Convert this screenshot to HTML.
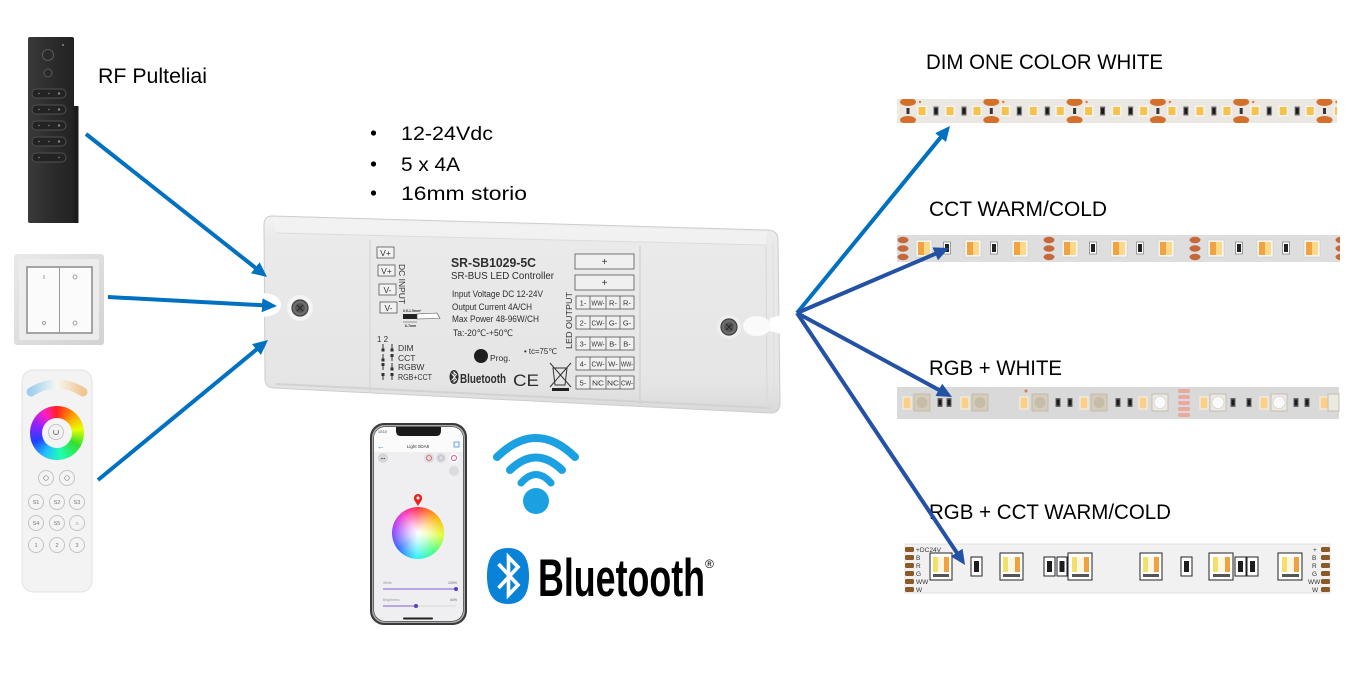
<!DOCTYPE html>
<html><head><meta charset="utf-8">
<style>
html,body{margin:0;padding:0;background:#fff;}
body{width:1353px;height:676px;position:relative;overflow:hidden;font-family:"Liberation Sans","DejaVu Sans",sans-serif;}
svg{position:absolute;left:0;top:0;}
.wheel{position:absolute;border-radius:50%;}
</style></head><body>
<svg width="1353" height="676" viewBox="0 0 1353 676" xmlns="http://www.w3.org/2000/svg" style="font-family:'Liberation Sans','DejaVu Sans',sans-serif">
<defs>
  <linearGradient id="cbody" x1="0" y1="0" x2="0" y2="1">
    <stop offset="0" stop-color="#f2f2f2"/>
    <stop offset="0.12" stop-color="#eaeaea"/>
    <stop offset="0.85" stop-color="#e5e5e5"/>
    <stop offset="1" stop-color="#d9d9d9"/>
  </linearGradient>
  <linearGradient id="band" x1="0" y1="0" x2="1" y2="0">
    <stop offset="0" stop-color="#9fd0ee"/>
    <stop offset="0.5" stop-color="#f7f7f2"/>
    <stop offset="1" stop-color="#efc690"/>
  </linearGradient>
  <linearGradient id="blk" x1="0" y1="0" x2="1" y2="0">
    <stop offset="0" stop-color="#3a3a3a"/>
    <stop offset="0.5" stop-color="#2c2c2c"/>
    <stop offset="1" stop-color="#222"/>
  </linearGradient>
  <linearGradient id="sw" x1="0" y1="0" x2="1" y2="1">
    <stop offset="0" stop-color="#e9e9e9"/>
    <stop offset="1" stop-color="#d2d2d2"/>
  </linearGradient>
  <marker id="mL" markerUnits="userSpaceOnUse" markerWidth="16" markerHeight="14" refX="5" refY="7" orient="auto">
    <path d="M0,0 L15,7 L0,14 Z" fill="#0070c0"/>
  </marker>
  <marker id="mD" markerUnits="userSpaceOnUse" markerWidth="16" markerHeight="14" refX="5" refY="7" orient="auto">
    <path d="M0,0 L15,7 L0,14 Z" fill="#2351a3"/>
  </marker>
  <pattern id="p1" x="900" y="99" width="83.3" height="24" patternUnits="userSpaceOnUse">
    <ellipse cx="8" cy="3" rx="8" ry="4" fill="#d4702a"/>
    <ellipse cx="8" cy="21" rx="8" ry="4" fill="#d4702a"/>
    <rect x="6.5" y="9" width="3" height="6" fill="#333"/>
    <rect x="17" y="6.5" width="10" height="11" fill="#f6f3ec"/><rect x="18.5" y="8" width="7" height="8" fill="#f5c24e"/>
    <rect x="45" y="6.5" width="10" height="11" fill="#f6f3ec"/><rect x="46.5" y="8" width="7" height="8" fill="#f5c24e"/>
    <rect x="72" y="6.5" width="10" height="11" fill="#f6f3ec"/><rect x="73.5" y="8" width="7" height="8" fill="#f5c24e"/>
    <rect x="33.5" y="7.5" width="5" height="9" fill="#666"/><rect x="34.5" y="9" width="3" height="6" fill="#1a1a1a"/>
    <rect x="61.5" y="7.5" width="5" height="9" fill="#666"/><rect x="62.5" y="9" width="3" height="6" fill="#1a1a1a"/>
    <circle cx="20" cy="3" r="1.2" fill="#e07a30"/>
  </pattern>
  <pattern id="p2" x="896" y="235" width="146" height="27" patternUnits="userSpaceOnUse">
    <ellipse cx="7" cy="5" rx="5.5" ry="3.2" fill="#c5683a"/>
    <ellipse cx="7" cy="13.5" rx="5.5" ry="3.2" fill="#c5683a"/>
    <ellipse cx="7" cy="22" rx="5.5" ry="3.2" fill="#c5683a"/>
    <g>
      <rect x="20" y="5" width="16" height="17" fill="#f7f5f0" stroke="#c8c8c8" stroke-width="0.5"/>
      <rect x="22" y="7" width="6" height="13" fill="#f2a23e"/><rect x="28" y="7" width="6" height="13" fill="#fbd88a"/>
      <rect x="69" y="5" width="16" height="17" fill="#f7f5f0" stroke="#c8c8c8" stroke-width="0.5"/>
      <rect x="71" y="7" width="6" height="13" fill="#f2a23e"/><rect x="77" y="7" width="6" height="13" fill="#fbd88a"/>
      <rect x="116" y="5" width="16" height="17" fill="#f7f5f0" stroke="#c8c8c8" stroke-width="0.5"/>
      <rect x="118" y="7" width="6" height="13" fill="#f2a23e"/><rect x="124" y="7" width="6" height="13" fill="#fbd88a"/>
      <rect x="47.5" y="7" width="7" height="12" fill="#fff" stroke="#666" stroke-width="0.6"/><rect x="49" y="9" width="4" height="8" fill="#222"/>
      <rect x="94.5" y="7" width="7" height="12" fill="#fff" stroke="#666" stroke-width="0.6"/><rect x="96" y="9" width="4" height="8" fill="#222"/>
    </g>
  </pattern>
  <clipPath id="scr"><rect x="374" y="427" width="89" height="194" rx="11"/></clipPath>
</defs>

<rect width="1353" height="676" fill="#fff"/>

<!-- Black RF remote -->
<rect x="73" y="106" width="5.5" height="117" fill="#1c1c1c"/>
<rect x="28" y="37" width="46" height="186" rx="2" fill="url(#blk)"/>
<circle cx="48" cy="55" r="5.5" fill="#2a2a2a" stroke="#5a5a5a" stroke-width="1"/>
<circle cx="48" cy="73" r="4" fill="#2a2a2a" stroke="#5a5a5a" stroke-width="1"/>
<circle cx="63" cy="45" r="1" fill="#888"/>
<g fill="#232323" stroke="#505050" stroke-width="1">
  <rect x="32" y="89" width="34" height="9" rx="4.5"/>
  <rect x="32" y="105" width="34" height="9" rx="4.5"/>
  <rect x="32" y="121" width="34" height="9" rx="4.5"/>
  <rect x="32" y="137" width="34" height="9" rx="4.5"/>
  <rect x="32" y="153" width="34" height="9" rx="4.5"/>
</g>
<g fill="#8a8a8a">
  <circle cx="39" cy="93.5" r="0.7"/><circle cx="49" cy="93.5" r="0.7"/><circle cx="59" cy="93.5" r="1.2"/>
  <circle cx="39" cy="109.5" r="0.7"/><circle cx="49" cy="109.5" r="0.7"/><circle cx="59" cy="109.5" r="1.2"/>
  <circle cx="39" cy="125.5" r="0.7"/><circle cx="49" cy="125.5" r="0.7"/><circle cx="59" cy="125.5" r="1.2"/>
  <circle cx="39" cy="141.5" r="0.7"/><circle cx="49" cy="141.5" r="0.7"/><circle cx="59" cy="141.5" r="1.2"/>
  <circle cx="39" cy="157.5" r="0.7"/><circle cx="59" cy="157.5" r="0.7"/>
</g>
<text x="98" y="83" font-size="21" fill="#000" textLength="109" lengthAdjust="spacingAndGlyphs">RF Pulteliai</text>

<!-- Wall switch -->
<rect x="14" y="254" width="90" height="91" rx="3" fill="url(#sw)"/>
<rect x="19" y="259" width="80" height="81" rx="2" fill="#ececec"/>
<rect x="27" y="267" width="65" height="66" fill="#fbfbfb" stroke="#8a8a8a" stroke-width="1.5"/>
<line x1="59.5" y1="268" x2="59.5" y2="332" stroke="#9a9a9a" stroke-width="1"/>
<line x1="44" y1="275" x2="44" y2="279" stroke="#888" stroke-width="0.8"/>
<circle cx="75" cy="277" r="2" fill="none" stroke="#888" stroke-width="0.8"/>
<circle cx="44" cy="323" r="1.5" fill="none" stroke="#888" stroke-width="0.8"/>
<circle cx="75" cy="323" r="2" fill="none" stroke="#888" stroke-width="0.8"/>

<!-- White remote -->
<rect x="22" y="370" width="70" height="222" rx="11" fill="#f3f3f3" stroke="#e3e3e3" stroke-width="1"/>
<path d="M31 392 Q57 376 83 392" stroke="url(#band)" stroke-width="9" stroke-linecap="round" fill="none"/>
<g fill="#f4f4f4" stroke="#c4c4c4" stroke-width="1">
  <circle cx="46" cy="478" r="7.5"/><circle cx="67" cy="478" r="7.5"/>
  <circle cx="36" cy="502" r="7.5"/><circle cx="57" cy="502" r="7.5"/><circle cx="77" cy="502" r="7.5"/>
  <circle cx="36" cy="523" r="7.5"/><circle cx="57" cy="523" r="7.5"/><circle cx="77" cy="523" r="7.5"/>
  <circle cx="36" cy="545" r="7.5"/><circle cx="57" cy="545" r="7.5"/><circle cx="77" cy="545" r="7.5"/>
</g>
<g fill="#777" font-size="5.5" text-anchor="middle">
  <text x="36" y="504">S1</text><text x="57" y="504">S2</text><text x="77" y="504">S3</text>
  <text x="36" y="525">S4</text><text x="57" y="525">S5</text><text x="77" y="525">⌂</text>
  <text x="36" y="547">1</text><text x="57" y="547">2</text><text x="77" y="547">3</text>
</g>
<circle cx="46" cy="478" r="2.3" fill="none" stroke="#888" stroke-width="0.7"/>
<circle cx="67" cy="478" r="2.3" fill="none" stroke="#888" stroke-width="0.7"/>

<!-- Bullets -->
<g font-size="19" fill="#000">
  <circle cx="373.5" cy="133" r="2.6"/>
  <circle cx="373.5" cy="164" r="2.6"/>
  <circle cx="373.5" cy="193" r="2.6"/>
  <text x="401" y="140" textLength="92" lengthAdjust="spacingAndGlyphs">12-24Vdc</text>
  <text x="401" y="171" textLength="59" lengthAdjust="spacingAndGlyphs">5 x 4A</text>
  <text x="401" y="200" textLength="126" lengthAdjust="spacingAndGlyphs">16mm storio</text>
</g>

<!-- Controller -->
<path d="M272 216 L768 230 Q778 230.5 778 240 L780 403 Q780 413 770 413 L274 388 Q265 387.5 265 379 L264 225 Q264 216 272 216 Z" fill="url(#cbody)" stroke="#cdcdcd" stroke-width="1"/>
<path d="M273 218 L767 232 L765 245 L276 233 Z" fill="#f3f3f3" opacity="0.8"/>
<line x1="276" y1="233" x2="765" y2="245" stroke="#dcdcdc" stroke-width="1"/>
<line x1="276" y1="384" x2="770" y2="408" stroke="#d2d2d2" stroke-width="2"/>
<line x1="370" y1="240" x2="370" y2="393" stroke="#d3d3d3" stroke-width="1"/>
<line x1="640" y1="246" x2="640" y2="404" stroke="#cfcfcf" stroke-width="1.2"/>
<line x1="766" y1="246" x2="767" y2="402" stroke="#d6d6d6" stroke-width="1"/>
<line x1="773" y1="242" x2="774" y2="404" stroke="#dedede" stroke-width="1"/>
<!-- left notch & screw -->
<path d="M263 293 C276 294 281 299 281 305 C281 311 276 316 263 317 Z" fill="#fff"/>
<circle cx="300" cy="308" r="13" fill="#f4f4f4"/>
<circle cx="300" cy="308" r="8" fill="#6e6e6e" stroke="#3e3e3e" stroke-width="1.2"/>
<circle cx="300" cy="308" r="5" fill="#555"/>
<path d="M297 305 L303 311 M303 305 L297 311" stroke="#2a2a2a" stroke-width="1.2"/>
<!-- right notch & screw -->
<ellipse cx="757" cy="326" rx="14" ry="10" fill="#fafafa"/>
<path d="M781 315 L770 318 L770 331 L781 334 Z" fill="#fff"/>
<circle cx="729" cy="327" r="12" fill="#efefef"/>
<circle cx="729" cy="327" r="8" fill="#6e6e6e" stroke="#3e3e3e" stroke-width="1.2"/>
<circle cx="729" cy="327" r="5" fill="#555"/>
<path d="M726 324 L732 330 M732 324 L726 330" stroke="#2a2a2a" stroke-width="1.2"/>

<!-- label panel -->
<g fill="#f2f2f2" stroke="#555" stroke-width="0.8">
  <rect x="377" y="247" width="17" height="11"/>
  <rect x="378" y="265" width="17" height="11"/>
  <rect x="379" y="284" width="17" height="11"/>
  <rect x="380" y="302" width="17" height="11"/>
</g>
<g font-size="8.5" fill="#333" text-anchor="middle">
  <text x="385.5" y="256">V+</text>
  <text x="386.5" y="274">V+</text>
  <text x="387.5" y="293">V-</text>
  <text x="388.5" y="311">V-</text>
</g>
<text transform="translate(399,264) rotate(90)" font-size="8" fill="#333" textLength="40" lengthAdjust="spacingAndGlyphs">DC INPUT</text>
<text x="403" y="312" font-size="3.5" font-weight="bold" fill="#333">0.5-1.5mm²</text>
<rect x="403" y="314" width="14" height="5" fill="#222"/>
<path d="M417 314 L437 313 L440 318.5 L417 319 Z" fill="#fff" stroke="#444" stroke-width="0.6"/>
<line x1="403" y1="322" x2="417" y2="322" stroke="#444" stroke-width="0.5"/>
<text x="405" y="327" font-size="3.5" font-weight="bold" fill="#333">6-7mm</text>

<text x="377" y="342" font-size="8" fill="#333">1 2</text>
<g fill="#333">
  <rect x="382.5" y="344" width="1" height="7"/><rect x="381.5" y="348.5" width="3" height="3"/>
  <rect x="391.5" y="344" width="1" height="7"/><rect x="390.5" y="348.5" width="3" height="3"/>
  <rect x="382.5" y="354" width="1" height="7"/><rect x="381.5" y="358.5" width="3" height="3"/>
  <rect x="391.5" y="354" width="1" height="7"/><rect x="390.5" y="354" width="3" height="3"/>
  <rect x="382.5" y="363" width="1" height="7"/><rect x="381.5" y="363" width="3" height="3"/>
  <rect x="391.5" y="363" width="1" height="7"/><rect x="390.5" y="367.5" width="3" height="3"/>
  <rect x="382.5" y="373" width="1" height="7"/><rect x="381.5" y="373" width="3" height="3"/>
  <rect x="391.5" y="373" width="1" height="7"/><rect x="390.5" y="373" width="3" height="3"/>
</g>
<g font-size="8.5" fill="#333">
  <text x="398" y="351">DIM</text>
  <text x="398" y="361">CCT</text>
  <text x="398" y="370">RGBW</text>
  <text x="398" y="380" textLength="34" lengthAdjust="spacingAndGlyphs">RGB+CCT</text>
</g>

<g fill="#2e2e2e">
  <text x="451" y="267" font-size="12.5" font-weight="bold" textLength="85" lengthAdjust="spacingAndGlyphs">SR-SB1029-5C</text>
  <text x="451" y="279" font-size="10" textLength="103" lengthAdjust="spacingAndGlyphs">SR-BUS LED Controller</text>
  <text x="452" y="297" font-size="9" textLength="91" lengthAdjust="spacingAndGlyphs">Input Voltage DC 12-24V</text>
  <text x="452" y="310" font-size="9" textLength="80" lengthAdjust="spacingAndGlyphs">Output Current 4A/CH</text>
  <text x="452" y="322" font-size="9" textLength="87" lengthAdjust="spacingAndGlyphs">Max Power 48-96W/CH</text>
  <text x="453" y="336" font-size="9" textLength="60" lengthAdjust="spacingAndGlyphs">Ta:-20℃-+50℃</text>
  <text x="524" y="354" font-size="8" textLength="33" lengthAdjust="spacingAndGlyphs">• tc=75℃</text>
  <text x="490" y="361" font-size="8.5">Prog.</text>
</g>
<circle cx="481" cy="356" r="7" fill="#1e1e1e"/>
<!-- small bluetooth logo on controller -->
<ellipse cx="454" cy="377" rx="4.5" ry="7" fill="#2e2e2e"/>
<path d="M451.5 373.5 L456.5 379.5 L454 382 L454 372 L456.5 374.5 L451.5 380.5" stroke="#fff" stroke-width="0.9" fill="none"/>
<text x="460" y="383" font-size="13" font-weight="bold" fill="#2e2e2e" font-family="'Liberation Sans Narrow','Liberation Sans',sans-serif" textLength="46" lengthAdjust="spacingAndGlyphs">Bluetooth</text>
<text x="513" y="386" font-size="17" fill="#2e2e2e" textLength="26" lengthAdjust="spacingAndGlyphs">CE</text>
<g stroke="#333" stroke-width="1" fill="none">
  <path d="M553 368 L567 368 L565 385 L555 385 Z"/>
  <line x1="550" y1="363" x2="571" y2="387"/>
  <line x1="571" y1="363" x2="550" y2="387"/>
</g>
<rect x="552" y="388" width="17" height="3" fill="#222"/>

<!-- output terminals -->
<g fill="#f0f0f0" stroke="#555" stroke-width="0.8">
  <rect x="575" y="254" width="59" height="15"/>
  <rect x="575" y="275" width="59" height="15"/>
  <rect x="576" y="296" width="58" height="13"/>
  <rect x="576" y="316" width="58" height="13"/>
  <rect x="576" y="337" width="58" height="13"/>
  <rect x="576" y="357" width="58" height="13"/>
  <rect x="576" y="376" width="58" height="13"/>
</g>
<g stroke="#555" stroke-width="0.8">
  <line x1="590" y1="296" x2="590" y2="309"/><line x1="606" y1="296" x2="606" y2="309"/><line x1="620" y1="296" x2="620" y2="309"/>
  <line x1="590" y1="316" x2="590" y2="329"/><line x1="606" y1="316" x2="606" y2="329"/><line x1="620" y1="316" x2="620" y2="329"/>
  <line x1="590" y1="337" x2="590" y2="350"/><line x1="606" y1="337" x2="606" y2="350"/><line x1="620" y1="337" x2="620" y2="350"/>
  <line x1="590" y1="357" x2="590" y2="370"/><line x1="606" y1="357" x2="606" y2="370"/><line x1="620" y1="357" x2="620" y2="370"/>
  <line x1="590" y1="376" x2="590" y2="389"/><line x1="606" y1="376" x2="606" y2="389"/><line x1="620" y1="376" x2="620" y2="389"/>
</g>
<g font-size="10" fill="#333" text-anchor="middle">
  <text x="604.5" y="265">+</text><text x="604.5" y="286">+</text>
</g>
<g font-size="7.5" fill="#333" text-anchor="middle">
  <text x="583" y="305.5">1-</text><text x="598" y="305.5" textLength="13" lengthAdjust="spacingAndGlyphs">WW-</text><text x="613" y="305.5">R-</text><text x="627" y="305.5">R-</text>
  <text x="583" y="325.5">2-</text><text x="598" y="325.5" textLength="13" lengthAdjust="spacingAndGlyphs">CW-</text><text x="613" y="325.5">G-</text><text x="627" y="325.5">G-</text>
  <text x="583" y="346.5">3-</text><text x="598" y="346.5" textLength="13" lengthAdjust="spacingAndGlyphs">WW-</text><text x="613" y="346.5">B-</text><text x="627" y="346.5">B-</text>
  <text x="583" y="366.5">4-</text><text x="598" y="366.5" textLength="13" lengthAdjust="spacingAndGlyphs">CW-</text><text x="613" y="366.5">W-</text><text x="627" y="366.5" textLength="12" lengthAdjust="spacingAndGlyphs">WW-</text>
  <text x="583" y="385.5">5-</text><text x="598" y="385.5" textLength="12" lengthAdjust="spacingAndGlyphs">NC</text><text x="613" y="385.5" textLength="12" lengthAdjust="spacingAndGlyphs">NC</text><text x="627" y="385.5" textLength="12" lengthAdjust="spacingAndGlyphs">CW-</text>
</g>
<text transform="translate(572,349) rotate(-90)" font-size="8" fill="#333" textLength="57" lengthAdjust="spacingAndGlyphs">LED OUTPUT</text>

<!-- Phone -->
<rect x="370" y="423" width="97" height="202" rx="14" fill="#3a3a3a"/>
<rect x="372" y="425" width="93" height="198" rx="12.5" fill="#a9a9a9"/>
<rect x="373.5" y="426.5" width="90" height="195" rx="11.5" fill="#222"/>
<g clip-path="url(#scr)">
  <rect x="374" y="427" width="89" height="194" fill="#efeff2"/>
  <rect x="374" y="427" width="89" height="25" fill="#fbfbfb"/>
</g>
<path d="M396 427 L441 427 L441 431 Q441 436 436 436 L401 436 Q396 436 396 431 Z" fill="#1a1a1a"/>
<text x="378" y="433" font-size="3.5" fill="#333">10:10</text>
<text x="377" y="449" font-size="8" fill="#3a8ee6">←</text>
<text x="418" y="448" font-size="4.5" fill="#333" text-anchor="middle">Light 0DA8</text>
<rect x="454" y="442" width="5" height="5" fill="none" stroke="#3a8ee6" stroke-width="0.8"/>
<circle cx="383" cy="458" r="5" fill="#d6d6d8"/>
<text x="383" y="459.5" font-size="4" fill="#444" text-anchor="middle">•••</text>
<circle cx="429" cy="458" r="5" fill="#dcdcde"/>
<circle cx="429" cy="458" r="2.5" fill="none" stroke="#e55050" stroke-width="0.8"/>
<circle cx="441" cy="458" r="5" fill="#dcdcde"/>
<circle cx="441" cy="458" r="2.5" fill="none" stroke="#b0b0e0" stroke-width="0.8"/>
<circle cx="454" cy="458" r="5" fill="#fff"/>
<circle cx="454" cy="458" r="2.5" fill="none" stroke="#e070a0" stroke-width="1.2"/>
<circle cx="454" cy="471" r="5" fill="#dcdcde"/>
<path d="M418 506 L414.5 500.5 A4.2 4.2 0 1 1 421.5 500.5 Z" fill="#e8241c"/>
<circle cx="418" cy="498" r="1.5" fill="#fff"/>
<text x="383" y="584" font-size="3.5" fill="#999">White</text>
<text x="457" y="584" font-size="3.5" fill="#666" text-anchor="end">100%</text>
<line x1="383" y1="589" x2="456" y2="589" stroke="#9a7ae0" stroke-width="1.2"/>
<circle cx="456" cy="589" r="2" fill="#5a3cc0"/>
<text x="383" y="601" font-size="3.5" fill="#999">Brightness</text>
<text x="457" y="601" font-size="3.5" fill="#666" text-anchor="end">44%</text>
<line x1="383" y1="606" x2="416" y2="606" stroke="#9a7ae0" stroke-width="1.2"/>
<line x1="416" y1="606" x2="456" y2="606" stroke="#dcdcdc" stroke-width="1.2"/>
<circle cx="416" cy="606" r="2" fill="#5a3cc0"/>
<rect x="403" y="617.5" width="30" height="2" rx="1" fill="#222"/>

<!-- WiFi -->
<g stroke="#1ba1e2" stroke-width="8" stroke-linecap="round" fill="none">
  <path d="M497 457 Q536 419 575 457"/>
  <path d="M510 470 Q536 445 562 470"/>
</g>
<path d="M521 483 Q536 466 551 483" stroke="#1ba1e2" stroke-width="7" stroke-linecap="round" fill="none"/>
<circle cx="536" cy="501" r="13" fill="#1ba1e2"/>

<!-- Bluetooth big logo -->
<path d="M508 548 C524 548 529 560 529 576 C529 592 524 604 508 604 C492 604 487 592 487 576 C487 560 492 548 508 548 Z" fill="#0a82d8"/>
<path d="M498.5 564 L518 585 L508.5 595 L508.5 557 L518 567 L498.5 588" stroke="#fff" stroke-width="3.6" fill="none" stroke-linejoin="miter"/>
<text x="538" y="596" font-size="53" font-weight="bold" fill="#000" font-family="'Liberation Sans Narrow','Liberation Sans',sans-serif" textLength="167" lengthAdjust="spacingAndGlyphs">Bluetooth</text>
<text x="705" y="568" font-size="12" fill="#000">®</text>

<!-- Right labels -->
<g font-size="21" fill="#000">
  <text x="926" y="69" textLength="237" lengthAdjust="spacingAndGlyphs">DIM ONE COLOR WHITE</text>
  <text x="929" y="216" textLength="178" lengthAdjust="spacingAndGlyphs">CCT WARM/COLD</text>
  <text x="929" y="375" textLength="133" lengthAdjust="spacingAndGlyphs">RGB + WHITE</text>
  <text x="929" y="519" textLength="242" lengthAdjust="spacingAndGlyphs">RGB + CCT WARM/COLD</text>
</g>

<!-- Strip 1 -->
<rect x="897" y="99" width="440" height="24" fill="#ebe7e2"/>
<rect x="897" y="99" width="440" height="24" fill="url(#p1)"/>

<!-- Strip 2 -->
<rect x="897" y="235" width="443" height="27" fill="#dedede"/>
<rect x="897" y="235" width="443" height="27" fill="url(#p2)"/>

<!-- Strip 3 -->
<rect x="897" y="387" width="442" height="32" fill="#d9d9d9"/>
<g fill="#e9a9a0">
  <rect x="1178" y="389" width="12" height="4" rx="2"/>
  <rect x="1178" y="395" width="12" height="4" rx="2"/>
  <rect x="1178" y="401" width="12" height="4" rx="2"/>
  <rect x="1178" y="407" width="12" height="4" rx="2"/>
  <rect x="1178" y="413" width="12" height="4" rx="2"/>
</g>
<g>
  <!-- warm white LEDs -->
  <g fill="#fbcf86" stroke="#f3efe6" stroke-width="1.2">
    <rect x="903" y="397" width="8" height="12"/><rect x="961" y="397" width="8" height="12"/>
    <rect x="1020" y="397" width="8" height="12"/><rect x="1080" y="397" width="8" height="12"/>
    <rect x="1139" y="397" width="8" height="12"/><rect x="1200" y="397" width="8" height="12"/>
    <rect x="1260" y="397" width="8" height="12"/><rect x="1320" y="397" width="8" height="12"/>
  </g>
  <!-- RGB LEDs -->
  <g fill="#d6ccbb" stroke="#bdb4a4" stroke-width="0.8">
    <rect x="914" y="394" width="16" height="17"/><rect x="972" y="394" width="16" height="17"/>
    <rect x="1032" y="394" width="16" height="17"/><rect x="1091" y="394" width="16" height="17"/>
  </g>
  <g fill="#c6bcaa">
    <circle cx="922" cy="402.5" r="5.5"/><circle cx="980" cy="402.5" r="5.5"/>
    <circle cx="1040" cy="402.5" r="5.5"/><circle cx="1099" cy="402.5" r="5.5"/>
  </g>
  <g fill="#ece9e2" stroke="#bdb4a4" stroke-width="0.8">
    <rect x="1152" y="394" width="16" height="17"/><rect x="1210" y="394" width="16" height="17"/>
    <rect x="1271" y="394" width="16" height="17"/><rect x="1328" y="394" width="11" height="17"/>
  </g>
  <g fill="#fafafa" stroke="#ccc" stroke-width="0.6">
    <circle cx="1160" cy="402.5" r="6"/><circle cx="1218" cy="402.5" r="6"/><circle cx="1279" cy="402.5" r="6"/>
  </g>
  <!-- resistors -->
  <g fill="#666">
    <rect x="937.5" y="398" width="5" height="9"/><rect x="946.5" y="398" width="5" height="9"/>
    <rect x="1055.5" y="398" width="5" height="9"/><rect x="1067.5" y="398" width="5" height="9"/>
    <rect x="1115.5" y="398" width="5" height="9"/><rect x="1127.5" y="398" width="5" height="9"/>
    <rect x="1230.5" y="398" width="5" height="9"/><rect x="1246.5" y="398" width="5" height="9"/>
    <rect x="1293.5" y="398" width="5" height="9"/><rect x="1304.5" y="398" width="5" height="9"/>
  </g>
  <g fill="#1a1a1a">
    <rect x="938.5" y="399.5" width="3" height="6"/><rect x="947.5" y="399.5" width="3" height="6"/>
    <rect x="1056.5" y="399.5" width="3" height="6"/><rect x="1068.5" y="399.5" width="3" height="6"/>
    <rect x="1116.5" y="399.5" width="3" height="6"/><rect x="1128.5" y="399.5" width="3" height="6"/>
    <rect x="1231.5" y="399.5" width="3" height="6"/><rect x="1247.5" y="399.5" width="3" height="6"/>
    <rect x="1294.5" y="399.5" width="3" height="6"/><rect x="1305.5" y="399.5" width="3" height="6"/>
  </g>
  <circle cx="1026" cy="391" r="1.5" fill="#e07a50"/>
</g>

<!-- Strip 4 -->
<rect x="905" y="544" width="425" height="49" fill="#f1f1f1" stroke="#dcdcdc" stroke-width="0.8"/>
<g fill="#8a5a2a">
  <rect x="905" y="547" width="9" height="5" rx="1.5"/><rect x="905" y="555" width="9" height="5" rx="1.5"/>
  <rect x="905" y="563" width="9" height="5" rx="1.5"/><rect x="905" y="571" width="9" height="5" rx="1.5"/>
  <rect x="905" y="579" width="9" height="5" rx="1.5"/><rect x="905" y="587" width="9" height="5" rx="1.5"/>
  <rect x="1321" y="547" width="9" height="5" rx="1.5"/><rect x="1321" y="555" width="9" height="5" rx="1.5"/>
  <rect x="1321" y="563" width="9" height="5" rx="1.5"/><rect x="1321" y="571" width="9" height="5" rx="1.5"/>
  <rect x="1321" y="579" width="9" height="5" rx="1.5"/><rect x="1321" y="587" width="9" height="5" rx="1.5"/>
</g>
<g font-size="6.5" fill="#333">
  <text x="916" y="552" textLength="25" lengthAdjust="spacingAndGlyphs">+DC24V</text>
  <text x="916" y="560">B</text><text x="916" y="568">R</text><text x="916" y="576">G</text>
  <text x="916" y="584">WW</text><text x="916" y="592">W</text>
  <text x="1313" y="552">+</text><text x="1312" y="560">B</text><text x="1312" y="568">R</text><text x="1312" y="576">G</text>
  <text x="1308" y="584">WW</text><text x="1312" y="592">W</text>
</g>
<g id="led5">
  <g fill="#fff" stroke="#222" stroke-width="1">
    <rect x="930" y="553" width="22" height="27"/><rect x="1000" y="553" width="23" height="27"/>
    <rect x="1068" y="553" width="24" height="27"/><rect x="1140" y="553" width="22" height="27"/>
    <rect x="1209" y="553" width="24" height="27"/><rect x="1278" y="553" width="24" height="27"/>
  </g>
  <g fill="#f3e06a">
    <rect x="933" y="557" width="5" height="15"/><rect x="1003" y="557" width="5" height="15"/>
    <rect x="1072" y="557" width="5" height="15"/><rect x="1143" y="557" width="5" height="15"/>
    <rect x="1213" y="557" width="5" height="15"/><rect x="1282" y="557" width="5" height="15"/>
  </g>
  <g fill="#fdf6e0">
    <rect x="938" y="557" width="6" height="15"/><rect x="1008" y="557" width="7" height="15"/>
    <rect x="1077" y="557" width="7" height="15"/><rect x="1148" y="557" width="6" height="15"/>
    <rect x="1218" y="557" width="7" height="15"/><rect x="1287" y="557" width="7" height="15"/>
  </g>
  <g fill="#f0a040">
    <rect x="944" y="557" width="5" height="15"/><rect x="1015" y="557" width="5" height="15"/>
    <rect x="1084" y="557" width="5" height="15"/><rect x="1154" y="557" width="5" height="15"/>
    <rect x="1225" y="557" width="5" height="15"/><rect x="1294" y="557" width="5" height="15"/>
  </g>
  <g fill="#555">
    <rect x="933" y="574" width="16" height="3"/><rect x="1003" y="574" width="17" height="3"/>
    <rect x="1072" y="574" width="17" height="3"/><rect x="1143" y="574" width="16" height="3"/>
    <rect x="1213" y="574" width="17" height="3"/><rect x="1282" y="574" width="17" height="3"/>
  </g>
</g>
<g fill="#fff" stroke="#222" stroke-width="1">
  <rect x="971" y="557" width="11" height="19"/><rect x="1044" y="557" width="11" height="19"/>
  <rect x="1057" y="557" width="10" height="19"/><rect x="1181" y="557" width="11" height="19"/>
  <rect x="1235" y="557" width="11" height="19"/><rect x="1247" y="557" width="11" height="19"/>
</g>
<g fill="#1e1e1e">
  <rect x="974" y="561" width="5" height="11"/><rect x="1047" y="561" width="5" height="11"/>
  <rect x="1059.5" y="561" width="5" height="11"/><rect x="1184" y="561" width="5" height="11"/>
  <rect x="1238" y="561" width="5" height="11"/><rect x="1250" y="561" width="5" height="11"/>
</g>

<!-- Color wheels placeholders drawn in HTML below -->

<!-- Arrows -->
<g fill="none" stroke-width="4" stroke-linecap="butt">
  <line x1="86" y1="134" x2="259.2" y2="270.8" stroke="#0070c0" marker-end="url(#mL)"/>
  <line x1="108" y1="297" x2="267" y2="305.5" stroke="#0070c0" marker-end="url(#mL)"/>
  <line x1="98" y1="480" x2="260.3" y2="346.4" stroke="#0070c0" marker-end="url(#mL)"/>
  <line x1="797" y1="313" x2="943.7" y2="133.7" stroke="#0070c0" marker-end="url(#mL)"/>
  <line x1="797" y1="313" x2="939.8" y2="251.9" stroke="#2351a3" marker-end="url(#mD)"/>
  <line x1="797" y1="313" x2="943.2" y2="392.2" stroke="#2351a3" marker-end="url(#mD)"/>
  <line x1="797" y1="313" x2="959.5" y2="556.7" stroke="#2351a3" marker-end="url(#mD)"/>
</g>
</svg>

<!-- remote color ring -->
<div class="wheel" style="left:30px;top:406px;width:54px;height:54px;background:conic-gradient(from 0deg,#ff2020,#ff9a00 40deg,#e8ff00 80deg,#30e030 120deg,#20ffb0 170deg,#20c0ff 210deg,#2040ff 250deg,#9020ff 290deg,#ff20c0 330deg,#ff2020);"></div>
<div class="wheel" style="left:42px;top:418px;width:30px;height:30px;background:#f4f4f4;"></div>
<div class="wheel" style="left:48px;top:424px;width:16px;height:16px;background:#f2f2f2;border:1px solid #c4c4c4;box-sizing:border-box;"></div>
<div class="wheel" style="left:53px;top:429px;width:6px;height:6px;border:1px solid #777;border-top-color:transparent;box-sizing:border-box;"></div>
<!-- phone color wheel -->
<div class="wheel" style="left:392px;top:507px;width:52px;height:52px;background:radial-gradient(circle,#fff 0%,rgba(255,255,255,0.7) 25%,rgba(255,255,255,0) 70%),conic-gradient(from 0deg,#ff3040,#ffb000 50deg,#e0ff30 95deg,#40ff80 140deg,#30f0ff 185deg,#3070ff 230deg,#a040ff 280deg,#ff30c0 325deg,#ff3040);"></div>
</body></html>
